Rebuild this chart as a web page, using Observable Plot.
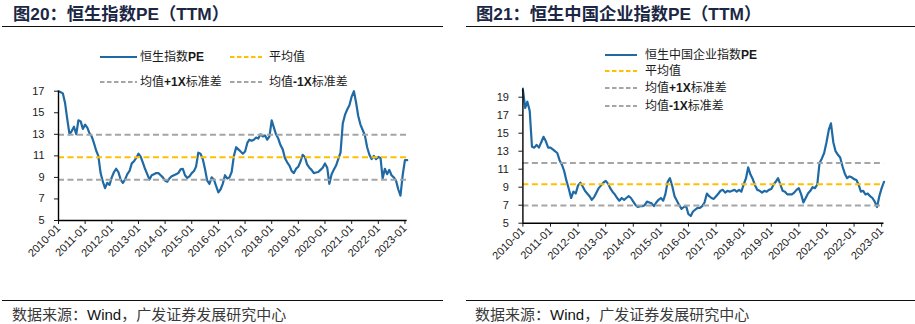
<!DOCTYPE html>
<html><head><meta charset="utf-8">
<script src="https://cdn.jsdelivr.net/npm/d3@7"></script>
<script src="https://cdn.jsdelivr.net/npm/@observablehq/plot@0.6"></script>
<style>
body{margin:0;background:#fff;}
#wrap{position:relative;width:915px;height:324px;overflow:hidden;font-family:"Liberation Sans","Noto Sans CJK SC",sans-serif;}
.title{position:absolute;top:3px;font-weight:bold;font-size:17.3px;color:#1b2744;white-space:nowrap;line-height:22px;}
.hr{position:absolute;height:1.4px;background:#111;}
.src{position:absolute;top:305px;font-size:15px;color:#3a3a3a;white-space:nowrap;line-height:20px;}
.src .w{color:#111;}
.leg{position:absolute;font-size:12px;color:#1a1a1a;white-space:nowrap;line-height:14px;}
.leg b{font-family:"Liberation Sans",sans-serif;}
.panel{position:absolute;top:0;}
</style>
</head><body>
<div id="wrap"></div>
<script>
// ---------- data ----------
const startYear = 2010;
const tickYears = [2010,2011,2012,2013,2014,2015,2016,2017,2018,2019,2020,2021,2022,2023];

// Hang Seng Index PE (TTM), monthly from 2010-01 to 2023-02
const hsiPE = [
17.0,16.9,16.8,15.9,14.4,13.0,13.3,13.7,13.0,14.3,
14.2,13.5,13.9,13.6,13.1,12.8,12.2,11.5,11.0,9.4,
8.6,8.0,8.5,8.3,9.0,9.5,9.8,9.5,8.8,8.5,
8.8,9.3,9.6,10.3,10.5,10.8,11.2,10.9,10.4,9.8,
9.3,8.8,9.2,9.3,9.4,9.4,9.2,9.0,8.7,8.6,
8.9,9.1,9.2,9.3,9.4,9.75,9.8,9.2,8.95,9.1,
9.4,9.6,10.0,11.3,11.2,10.7,9.8,8.7,8.4,9.0,
8.8,8.2,7.6,7.9,8.4,9.2,8.9,9.0,9.5,11.0,
11.8,11.6,11.4,11.2,11.4,12.2,12.5,12.4,12.5,12.7,
12.6,13.0,12.8,12.9,12.5,12.8,14.3,13.6,13.0,12.6,
12.0,11.6,10.8,10.4,10.1,9.6,9.4,9.8,10.0,10.5,
11.1,10.9,10.2,9.9,9.7,9.4,9.45,9.5,9.7,9.9,
10.3,9.9,8.4,9.3,9.7,10.1,10.7,11.3,14.0,14.8,
15.3,15.7,16.5,17.0,16.0,14.7,13.9,13.4,12.9,11.8,
11.1,10.7,11.0,10.7,10.9,10.8,8.9,9.8,9.3,9.7,
9.2,9.0,8.7,7.9,7.3,9.2,10.6,10.6
];
// [mean, mean+1sd, mean-1sd]
const hsiStats = [10.87, 12.95, 8.79];
const hsiYTicks = [5,7,9,11,13,15,17];

// Hang Seng China Enterprises Index PE (TTM), monthly from 2010-01 to 2023-02
const hscePE = [
19.8,17.8,18.5,17.5,13.5,13.4,13.7,13.4,14.0,14.6,
14.1,13.4,13.4,13.2,13.0,12.8,12.0,11.5,10.8,9.7,
8.8,7.8,8.5,8.3,9.2,9.5,9.1,8.6,8.3,8.0,
7.6,7.9,8.4,8.9,9.2,9.5,9.7,9.4,8.9,8.5,
8.2,7.8,7.5,7.8,7.6,7.8,8.0,7.8,7.4,7.0,
6.8,6.9,6.9,7.0,7.4,7.3,7.2,6.9,7.3,7.6,
7.8,7.5,8.2,9.6,10.0,9.1,8.0,7.5,7.0,6.6,
6.8,6.9,6.0,5.8,6.3,6.5,6.7,6.7,6.9,7.3,
8.3,8.0,7.8,7.7,8.0,8.3,8.6,8.7,8.4,8.6,
8.5,8.6,8.7,8.5,8.7,8.5,9.3,10.0,11.2,10.4,
9.9,9.2,8.7,8.6,8.4,8.6,8.5,8.7,8.8,9.3,
9.6,10.0,9.3,8.6,8.5,8.2,8.2,8.2,8.4,8.7,
8.9,8.2,7.3,7.8,8.3,8.6,9.0,8.9,9.3,11.7,
12.2,12.8,14.0,15.4,16.1,14.0,13.0,12.6,12.3,11.3,
10.5,10.0,10.2,10.1,9.9,9.8,9.3,8.5,8.6,8.2,
8.3,8.0,7.8,7.4,6.8,8.0,8.9,9.6
];
const hsceStats = [9.33, 11.68, 6.98];
const hsceYTicks = [5,7,9,11,13,15,17,19];

// ---------- styles ----------
const BLUE = "#1f6aa5", GOLD = "#ffc000", GRAY = "#a5a5a5";
const DASH = "6,3.5";

const wrap = document.getElementById("wrap");

function panel(values, stats, yDomain, yTicks, o) {
  const data = values.map((v, i) => ({date: new Date(Date.UTC(startYear, i, 1)), pe: v}));
  const x0 = data[0].date, x1 = data[data.length - 1].date;
  const ticks = tickYears.map(y => new Date(Date.UTC(y, 0, 1)));
  const svg = Plot.plot({
    width: o.width, height: 290,
    marginLeft: o.ml, marginRight: o.mr, marginTop: o.mt, marginBottom: o.mb,
    style: {fontFamily: "'Liberation Sans', Arial, sans-serif", fontSize: "11px", color: "#1a1a1a", background: "transparent", overflow: "visible"},
    x: {type: "utc", domain: [x0, x1], ticks: ticks, tickFormat: d3.utcFormat("%Y-%m"), tickRotate: -45, tickSize: 4, tickPadding: 2, label: null},
    y: {domain: yDomain, ticks: yTicks, tickSize: 4, tickPadding: 10, label: null},
    marks: [
      Plot.lineY(data, {x: "date", y: "pe", stroke: BLUE, strokeWidth: 2.2}),
      Plot.ruleY([stats[1], stats[2]], {stroke: GRAY, strokeWidth: 2, strokeDasharray: DASH}),
      Plot.ruleY([stats[0]], {stroke: GOLD, strokeWidth: 2, strokeDasharray: DASH}),
      Plot.ruleX([x0], {stroke: "#000", strokeWidth: 1.4}),
      Plot.ruleY([yDomain[0]], {stroke: "#000", strokeWidth: 1.4})
    ]
  });
  svg.classList.add("panel");
  svg.style.left = o.left + "px";
  wrap.appendChild(svg);
}

panel(hsiPE, hsiStats, [5, 17], hsiYTicks, {left: 0, width: 460, ml: 58, mr: 53.3, mt: 90.7, mb: 70});
panel(hscePE, hsceStats, [5, 20], hsceYTicks, {left: 460, width: 455, ml: 62.4, mr: 31.5, mt: 87.7, mb: 67.3});

// ---------- text & decorations ----------
function add(cls, left, top, html, extra) {
  const d = document.createElement("div");
  d.className = cls;
  d.style.left = left + "px";
  if (top !== null) d.style.top = top + "px";
  d.innerHTML = html;
  if (extra) Object.assign(d.style, extra);
  wrap.appendChild(d);
  return d;
}
add("title", 13, null, "图20：恒生指数PE（TTM）");
add("title", 476, null, "图21：恒生中国企业指数PE（TTM）");
add("hr", 2, 26, "", {width: "441px"});
add("hr", 466, 26, "", {width: "449px"});
add("hr", 2, 299.5, "", {width: "441px"});
add("hr", 466, 299.5, "", {width: "449px"});
add("src", 12, null, '数据来源：<span class="w">Wind</span>，广发证券发展研究中心');
add("src", 475, null, '数据来源：<span class="w">Wind</span>，广发证券发展研究中心');

function legend(x, y, w, color, dash, label, tx) {
  const s = `<svg style="position:absolute;left:${x}px;top:${y - 2}px" width="${w}" height="4"><line x1="0" x2="${w}" y1="2" y2="2" stroke="${color}" stroke-width="2" ${dash ? `stroke-dasharray="4.5,2.5"` : ""}/></svg>`;
  const d = document.createElement("div");
  d.innerHTML = s;
  wrap.appendChild(d.firstChild);
  add("leg", tx, y - 7, label);
}
// left legend
legend(100, 57, 37, BLUE, false, "恒生指数<b>PE</b>", 140);
legend(230, 57, 32, GOLD, true, "平均值", 269);
legend(100, 82, 37, GRAY, true, "均值<b>+1X</b>标准差", 140);
legend(230, 82, 32, GRAY, true, "均值<b>-1X</b>标准差", 269);
// right legend
legend(605, 55, 32, BLUE, false, "恒生中国企业指数<b>PE</b>", 645);
legend(605, 71, 32, GOLD, true, "平均值", 645);
legend(605, 88, 32, GRAY, true, "均值<b>+1X</b>标准差", 645);
legend(605, 106, 32, GRAY, true, "均值<b>-1X</b>标准差", 645);
</script>
</body></html>
